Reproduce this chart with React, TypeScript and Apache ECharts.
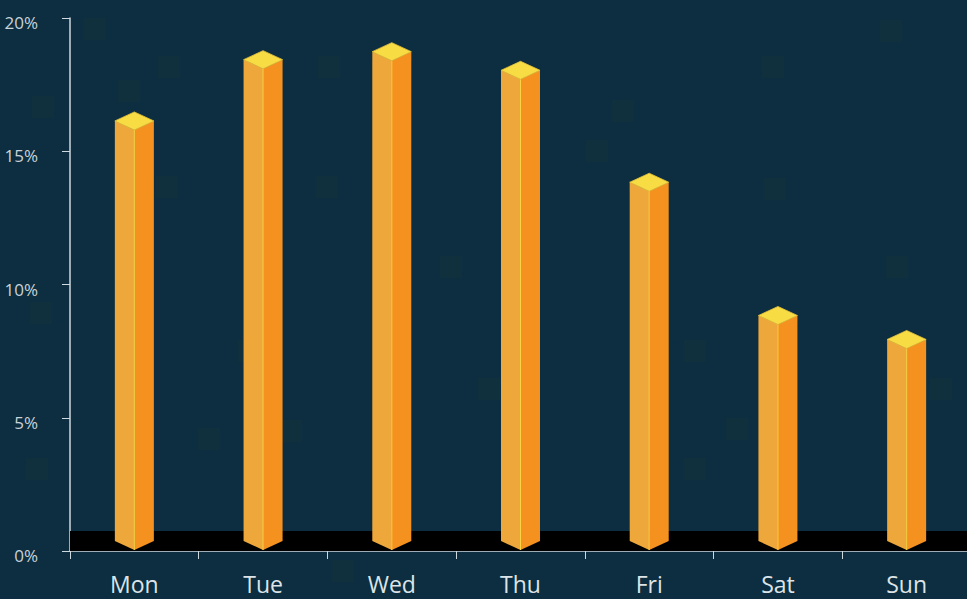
import React, { useEffect, useRef } from "react";
import * as echarts from "echarts";

const categories = ["Mon", "Tue", "Wed", "Thu", "Fri", "Sat", "Sun"];
const shares = [15.8, 18.1, 18.4, 17.7, 13.5, 8.5, 7.6];
const yTicks = { min: 0, max: 20, interval: 5 };
const baseBand = [0, 0.75];

const decoSquares: [number, number][] = [
  [84, 18], [158, 56], [32, 96], [118, 80], [318, 56], [316, 176], [156, 176],
  [440, 256], [762, 56], [764, 178], [886, 256], [684, 340], [478, 378],
  [726, 418], [26, 458], [280, 420], [684, 458], [332, 560], [930, 378],
  [30, 302], [238, 340], [586, 140], [612, 100], [198, 428], [880, 20],
];

export default function App() {
  const ref = useRef<HTMLDivElement>(null);
  useEffect(() => {
    if (!ref.current) return;
    const chart = echarts.init(ref.current, null, { renderer: "svg" });
    const font = "'Open Sans', 'Noto Sans', sans-serif";
    chart.setOption({
      animation: false,
      backgroundColor: "#0c2e40",
      graphic: decoSquares.map(([x, y]) => ({
        type: "rect",
        silent: true,
        z: -10,
        shape: { x, y, width: 22, height: 22 },
        style: { fill: "rgba(40,60,55,0.2)" },
      })),
      grid: { left: 70, right: 0, top: 18, bottom: 48, containLabel: false },
      xAxis: {
        type: "category",
        data: categories,
        boundaryGap: true,
        axisLine: { lineStyle: { color: "#cfd8dd", width: 1.5 } },
        axisTick: { show: true, length: 8, alignWithLabel: false, lineStyle: { color: "#cfd8dd" } },
        axisLabel: { color: "#dde4e8", fontSize: 23, margin: 21, fontFamily: font },
        splitLine: { show: false },
      },
      yAxis: {
        type: "value",
        min: yTicks.min,
        max: yTicks.max,
        interval: yTicks.interval,
        axisLine: { show: true, lineStyle: { color: "#cfd8dd", width: 1.5 } },
        axisTick: { show: true, length: 8, lineStyle: { color: "#cfd8dd" } },
        axisLabel: {
          color: "#c9d3d9",
          fontSize: 17,
          margin: 32,
          verticalAlign: "top",
          lineHeight: 9,
          formatter: "{value}%",
          fontFamily: font,
        },
        splitLine: { show: false },
      },
      series: [
        {
          type: "line",
          data: shares,
          z: 1,
          symbol: "none",
          lineStyle: { opacity: 0 },
          silent: true,
          markArea: {
            silent: true,
            itemStyle: { color: "#000000", opacity: 1 },
            data: [[{ yAxis: baseBand[0] }, { yAxis: baseBand[1] }]],
          },
        },
        {
          type: "custom",
          z: 3,
          data: shares.map((v, i) => [i, v]),
          encode: { x: 0, y: 1 },
          renderItem: (params: any, api: any) => {
            const top = api.coord([api.value(0), api.value(1)]);
            const bot = api.coord([api.value(0), 0]);
            const cx = top[0];
            const yt = top[1];
            const yb = bot[1] - 1;
            const w = 19.5;
            const h = 9;
            return {
              type: "group",
              children: [
                {
                  type: "polygon",
                  shape: { points: [[cx - w, yt - h], [cx, yt], [cx, yb], [cx - w, yb - h]] },
                  style: { fill: "#eea73b" },
                },
                {
                  type: "polygon",
                  shape: { points: [[cx, yt], [cx + w, yt - h], [cx + w, yb - h], [cx, yb]] },
                  style: { fill: "#f4911f" },
                },
                {
                  type: "line",
                  shape: { x1: cx, y1: yt, x2: cx, y2: yb },
                  style: { stroke: "#f8d445", lineWidth: 1 },
                },
                {
                  type: "polygon",
                  shape: { points: [[cx, yt - 2 * h], [cx + w, yt - h], [cx, yt], [cx - w, yt - h]] },
                  style: { fill: "#f8dc44", stroke: "#e9c23a", lineWidth: 0.8 },
                },
              ],
            };
          },
        },
      ],
    });
    return () => chart.dispose();
  }, []);
  return (
    <div style={{ position: "fixed", left: 0, top: 0, width: 967, height: 599, overflow: "hidden" }}>
      <div ref={ref} style={{ width: 971, height: 599 }} />
    </div>
  );
}
